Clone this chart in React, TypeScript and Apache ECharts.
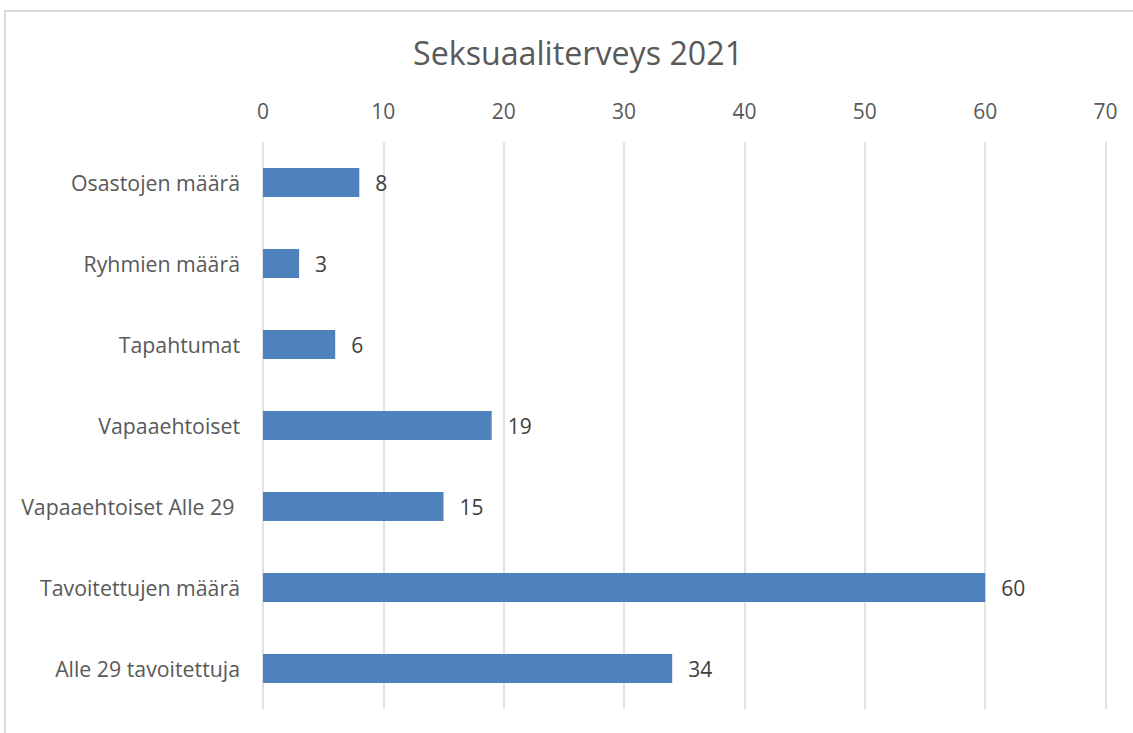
import React, { useEffect, useRef } from "react";
import * as echarts from "echarts";

const categories = [
  "Osastojen määrä",
  "Ryhmien määrä",
  "Tapahtumat",
  "Vapaaehtoiset",
  "Vapaaehtoiset Alle 29 ",
  "Tavoitettujen määrä",
  "Alle 29 tavoitettuja",
];
const values = [8, 3, 6, 19, 15, 60, 34];
const titleText = "Seksuaaliterveys 2021";
const FONT = "'Open Sans', 'Liberation Sans', sans-serif";

export default function App() {
  const ref = useRef<HTMLDivElement>(null);
  useEffect(() => {
    if (!ref.current) return;
    const chart = echarts.init(ref.current, undefined, { renderer: "svg" });
    chart.setOption({
      animation: false,
      backgroundColor: "#ffffff",
      title: {
        text: titleText,
        left: 408,
        top: 31,
        textStyle: { fontFamily: FONT, fontSize: 32.2, fontWeight: "normal", color: "#595959" },
      },
      graphic: [
        {
          type: "rect",
          shape: { x: 5, y: 11, width: 1300, height: 900 },
          style: { fill: "none", stroke: "#d9d9d9", lineWidth: 2 },
          silent: true,
        },
      ],
      grid: { left: 263, right: 27.5, top: 142, bottom: 24, containLabel: false },
      xAxis: {
        type: "value",
        position: "top",
        min: 0,
        max: 70,
        interval: 10,
        axisLine: { show: false },
        axisTick: { show: false },
        axisLabel: { fontFamily: FONT, fontSize: 21, color: "#595959", margin: 21 },
        splitLine: { show: true, lineStyle: { color: "#d9d9d9", width: 1.5 } },
      },
      yAxis: {
        type: "category",
        inverse: true,
        data: categories,
        axisLine: { show: false },
        axisTick: { show: false },
        axisLabel: { fontFamily: FONT, fontSize: 21.3, color: "#595959", margin: 23 },
        splitLine: { show: false },
      },
      series: [
        {
          type: "bar",
          data: values,
          barWidth: 29,
          itemStyle: { color: "#4f81bd" },
          label: {
            show: true,
            position: "right",
            distance: 16,
            fontFamily: FONT,
            fontSize: 21,
            color: "#404040",
          },
        },
      ],
    });
    return () => chart.dispose();
  }, []);
  return (
    <div
      ref={ref}
      style={{ position: "fixed", left: 0, top: 0, width: 1133, height: 733 }}
    />
  );
}
